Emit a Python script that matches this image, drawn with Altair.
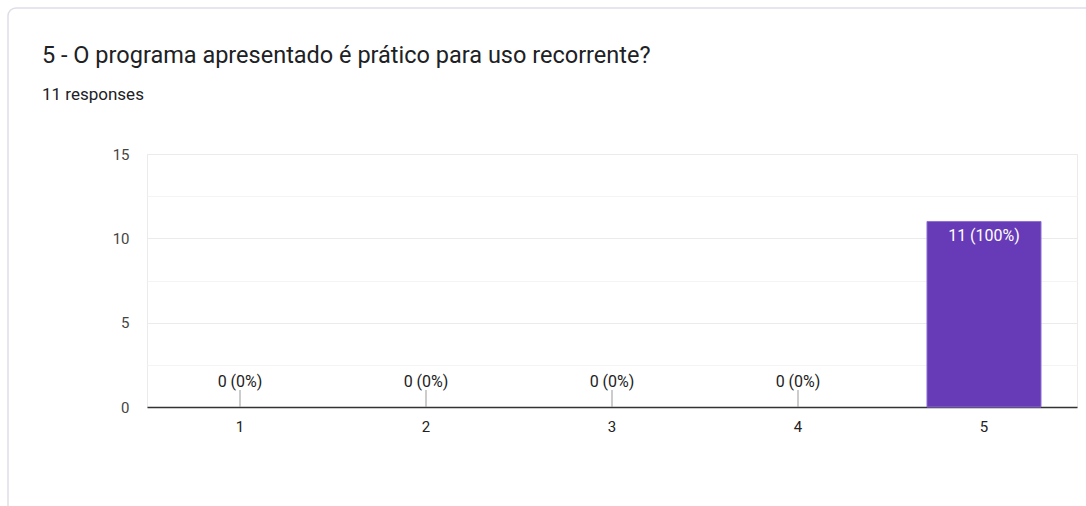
import altair as alt
import pandas as pd

# Survey answers: scale option and number of responses
options = ["1", "2", "3", "4", "5"]
counts = [0, 0, 0, 0, 11]
total_responses = 11

question = "5 - O programa apresentado é prático para uso recorrente?"
subtitle = f"{total_responses} responses"

df = pd.DataFrame({"option": options, "count": counts})
df["label"] = [
    f"{c} ({round(100 * c / total_responses)}%)" for c in counts
]

FONT = "Roboto"
W, H = 930, 253
LEFT, TOP = 147, 154
TEXT_X = 42

x_scale = alt.Scale(domain=options, paddingInner=0.387, paddingOuter=0.1935)
x_enc = alt.X(
    "option:N",
    scale=x_scale,
    title=None,
    axis=alt.Axis(
        labelAngle=0,
        ticks=False,
        domainColor="#333333",
        domainWidth=1.5,
        labelFontSize=15,
        labelColor="#222222",
        labelPadding=12,
        labelFont=FONT,
        grid=False,
    ),
)
y_scale = alt.Scale(domain=[0, 15], nice=False)
y_enc = alt.Y(
    "count:Q",
    scale=y_scale,
    title=None,
    axis=alt.Axis(
        values=[0, 2.5, 5, 7.5, 10, 12.5, 15],
        labelExpr="datum.value % 5 === 0 ? datum.label : ''",
        ticks=False,
        domain=False,
        gridColor={
            "condition": {"test": "datum.value % 5 === 0", "value": "#ebebeb"},
            "value": "#f4f4f4",
        },
        gridWidth=1,
        labelFontSize=15,
        labelColor="#444444",
        labelFont=FONT,
        labelPadding=18,
    ),
)

base = alt.Chart(df)

bars = base.transform_filter(alt.datum["count"] > 0).mark_bar(
    color="#673ab7", stroke="#8f6fd0", strokeWidth=1
).encode(x=x_enc, y=y_enc)

inside_labels = base.transform_filter(alt.datum["count"] > 0).mark_text(
    color="white", fontSize=16, font=FONT, baseline="alphabetic", dy=20
).encode(
    x=alt.X("option:N", scale=x_scale),
    y=alt.Y("count:Q", scale=y_scale),
    text="label:N",
)

zero_stems = base.transform_filter(alt.datum["count"] == 0).mark_rule(
    color="#999999", strokeWidth=1
).encode(
    x=alt.X("option:N", scale=x_scale),
    y=alt.Y("count:Q", scale=y_scale),
    y2=alt.value(H - 17),
)

zero_labels = base.transform_filter(alt.datum["count"] == 0).mark_text(
    color="#222222", fontSize=16, font=FONT, baseline="alphabetic", dy=-20
).encode(
    x=alt.X("option:N", scale=x_scale),
    y=alt.Y("count:Q", scale=y_scale),
    text="label:N",
)

# Heading and response count above the plot
heading = alt.Chart(pd.DataFrame({"t": [question]})).mark_text(
    align="left", baseline="alphabetic", font=FONT, fontSize=23.5, color="#202124"
).encode(x=alt.value(TEXT_X - LEFT), y=alt.value(63 - TOP), text="t:N")

responses = alt.Chart(pd.DataFrame({"t": [subtitle]})).mark_text(
    align="left", baseline="alphabetic", font=FONT, fontSize=17, color="#202124"
).encode(x=alt.value(TEXT_X - LEFT), y=alt.value(100 - TOP), text="t:N")

# Card outline around the whole panel
card = alt.Chart(pd.DataFrame({"k": [0]})).mark_rect(
    fill=None, stroke="#dfdde8", strokeWidth=1.5, cornerRadius=8
).encode(
    x=alt.value(8 - LEFT),
    x2=alt.value(W + 40),
    y=alt.value(8 - TOP),
    y2=alt.value(H + 140),
)

chart = (
    alt.layer(card, heading, responses, bars, zero_stems, zero_labels, inside_labels)
    .properties(
        width=W,
        height=H,
        padding={"left": LEFT, "top": TOP, "right": 1086 - LEFT - W, "bottom": 506 - TOP - H},
        autosize=alt.AutoSizeParams(type="none"),
        background="white",
    )
    .configure_view(stroke="#ebebeb", strokeWidth=1)
)

chart.save("out.html", embed_options={"renderer": "svg", "actions": False})
